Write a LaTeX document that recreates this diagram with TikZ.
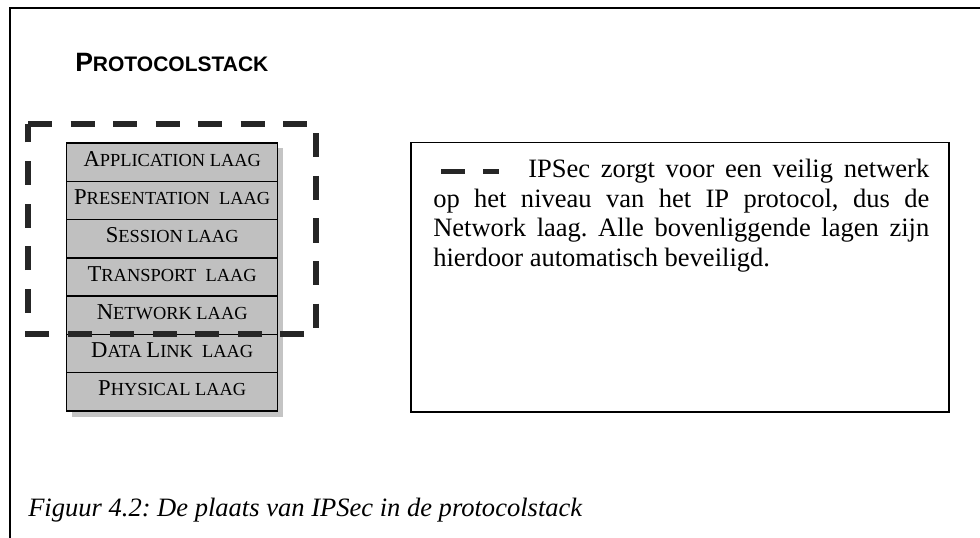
\documentclass[tikz,border=0pt]{standalone}
\usepackage{fontspec}
\setmainfont{Liberation Serif}
\newfontfamily\hdrfont{Liberation Sans}
\usetikzlibrary{calc,backgrounds}
\definecolor{dashgray}{HTML}{262626}
\definecolor{layerfill}{HTML}{C0C0C0}
\definecolor{shadowgray}{HTML}{C4C4C4}
\newcommand\capA[1]{{\fontsize{17pt}{20pt}\selectfont #1}}
\newcommand\capB[1]{{\fontsize{13.8pt}{16pt}\selectfont #1}}
\frenchspacing
\begin{document}
\begin{tikzpicture}[x=0.75pt,y=-0.75pt,
  frame/.style={line width=1.5pt, draw=black},
  layer/.style={draw=black, line width=1.1pt, fill=layerfill,
    minimum width=158.25pt, inner sep=0pt, outer sep=0pt,
    text height=17.4pt, text depth=11.32pt, anchor=north,
    font=\fontsize{17pt}{20pt}\selectfont},
  secure/.style={draw=dashgray, line width=3.9pt, dash pattern=on 18pt off 13.875pt},
  infobox/.style={draw=black, line width=1.1pt, minimum width=403.5pt,
    minimum height=202pt, inner sep=0pt, outer sep=0pt, anchor=north west},
  boxline/.style={anchor=base west, inner sep=0pt, font=\fontsize{19.9pt}{22pt}\selectfont},
  captext/.style={anchor=base west, inner sep=0pt, font=\fontsize{19.9pt}{22pt}\selectfont\itshape},
  hdr/.style={anchor=base west, inner sep=0pt}
]
\useasboundingbox (0,0) rectangle (980,538);
\begin{scope}[on background layer]
  \fill[white] (0,0) rectangle (980,538);
\end{scope}

% outer frame (top and left only)
\draw[frame] (10,538) -- (10,8) -- (980,8);

% heading
\node[hdr] (title) at (75,71.7) {\hdrfont\bfseries\fontsize{19.9pt}{22pt}\selectfont P\fontsize{15.75pt}{18pt}\selectfont ROTOCOLSTACK};

% protocol stack
\node[layer, anchor=north west] (r1) at (66.7,143) {\capA{A}\capB{PPLICATION LAAG}};
\node[layer] (r2) at (r1.south) {\capA{P}\capB{RESENTATION\ \ LAAG}};
\node[layer] (r3) at (r2.south) {\capA{S}\capB{ESSION LAAG}};
\node[layer] (r4) at (r3.south) {\capA{T}\capB{RANSPORT\ \ LAAG}};
\node[layer] (r5) at (r4.south) {\capA{N}\capB{ETWORK LAAG}};
\node[layer] (r6) at (r5.south) {\capA{D}\capB{ATA }\capA{L}\capB{INK\ \ LAAG}};
\node[layer] (r7) at (r6.south) {\capA{P}\capB{HYSICAL LAAG}};
\begin{scope}[on background layer]
  \fill[shadowgray] ($(r1.north west)+(5.5,5.5)$) rectangle ($(r7.south east)+(5.5,5.5)$);
\end{scope}

% IPSec region
\coordinate (s1) at (28,124);
\coordinate (s2) at (316,124);
\coordinate (s3) at (316,334);
\coordinate (s4) at (28,334);
\draw[secure] (s1) -- (s2) -- (s3) -- (s4) -- cycle;

% explanation box
\node[infobox] (box) at (411,142.7) {};
\node[boxline] (l1) at (433,177.7) {\makebox[372pt][s]{\hspace*{5.8pt}\textcolor{dashgray}{\rule[2.75pt]{18.2pt}{3.5pt}}\hspace{13.3pt}\textcolor{dashgray}{\rule[2.75pt]{11.7pt}{3.5pt}}\hspace{22.3pt}IPSec zorgt voor een veilig netwerk}};
\node[boxline] (l2) at (433,207.2) {\makebox[372pt][s]{op het niveau van het IP protocol, dus de}};
\node[boxline] (l3) at (433,236.7) {\makebox[372pt][s]{Network laag. Alle bovenliggende lagen zijn}};
\node[boxline] (l4) at (433,266.2) {hierdoor automatisch beveiligd.};

% caption
\node[captext] (cap) at (28,516) {Figuur 4.2: De plaats van IPSec in de protocolstack};
\end{tikzpicture}
\end{document}
